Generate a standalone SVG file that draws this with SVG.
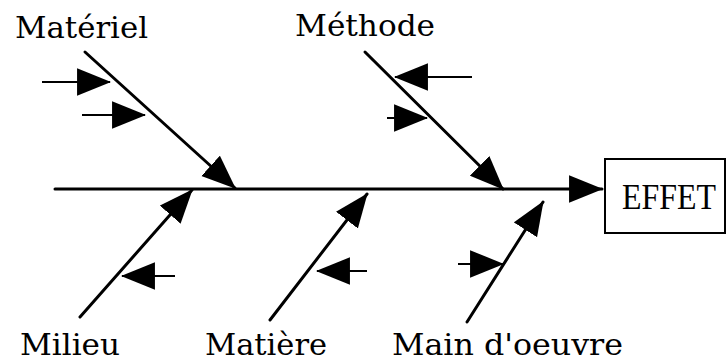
<svg xmlns="http://www.w3.org/2000/svg" width="727" height="363" viewBox="0 0 727 363">
<style>
.bone{stroke:#000;stroke-width:3;fill:none;stroke-linecap:round}
.sub{stroke:#000;stroke-width:2.2;fill:none}
.lbl{font-family:"DejaVu Serif","Liberation Serif",serif;font-size:30px;fill:#000}
.eff{font-family:"Liberation Serif","DejaVu Serif",serif;font-size:36px;fill:#000}
</style>
<defs>
<marker id="ah" markerUnits="userSpaceOnUse" markerWidth="34" markerHeight="28" viewBox="0 0 32 26" refX="31" refY="13" orient="auto">
<path d="M0,0 L32,13 L0,26 Z" fill="#000"/>
</marker>
</defs>
<rect width="727" height="363" fill="#fff"/>
<g id="connectors">
<line class="bone" x1="55" y1="189" x2="602" y2="189" marker-end="url(#ah)"/>
<line class="bone" x1="85" y1="52" x2="235" y2="188" marker-end="url(#ah)"/>
<line class="bone" x1="365" y1="52" x2="503" y2="189" marker-end="url(#ah)"/>
<line class="bone" x1="80" y1="317" x2="192" y2="190" marker-end="url(#ah)"/>
<line class="bone" x1="270" y1="320" x2="367" y2="194" marker-end="url(#ah)"/>
<line class="bone" x1="467" y1="322" x2="543" y2="202" marker-end="url(#ah)"/>
<line class="sub" x1="42" y1="82" x2="110" y2="82" marker-end="url(#ah)"/>
<line class="sub" x1="82" y1="115" x2="145" y2="115" marker-end="url(#ah)"/>
<line class="sub" x1="472" y1="77" x2="395" y2="77" marker-end="url(#ah)"/>
<line class="sub" x1="387" y1="118" x2="427" y2="118" marker-end="url(#ah)"/>
<line class="sub" x1="175" y1="276" x2="122" y2="276" marker-end="url(#ah)"/>
<line class="sub" x1="367" y1="271" x2="317" y2="271" marker-end="url(#ah)"/>
<line class="sub" x1="458" y1="264" x2="503" y2="264" marker-end="url(#ah)"/>
</g>
<g id="materiel"><text class="lbl" x="15" y="38" textLength="133" lengthAdjust="spacingAndGlyphs">Matériel</text></g>
<g id="methode"><text class="lbl" x="295" y="36" textLength="140" lengthAdjust="spacingAndGlyphs">Méthode</text></g>
<g id="milieu"><text class="lbl" x="20" y="355" textLength="100" lengthAdjust="spacingAndGlyphs">Milieu</text></g>
<g id="matiere"><text class="lbl" x="205" y="355" textLength="122" lengthAdjust="spacingAndGlyphs">Matière</text></g>
<g id="main-oeuvre"><text class="lbl" x="392" y="355" textLength="231" lengthAdjust="spacingAndGlyphs">Main d'oeuvre</text></g>
<g id="effet">
<rect x="605" y="159" width="120" height="74" fill="#fff" stroke="#000" stroke-width="2"/>
<text class="eff" x="622" y="209" textLength="94" lengthAdjust="spacingAndGlyphs">EFFET</text>
</g>
</svg>
